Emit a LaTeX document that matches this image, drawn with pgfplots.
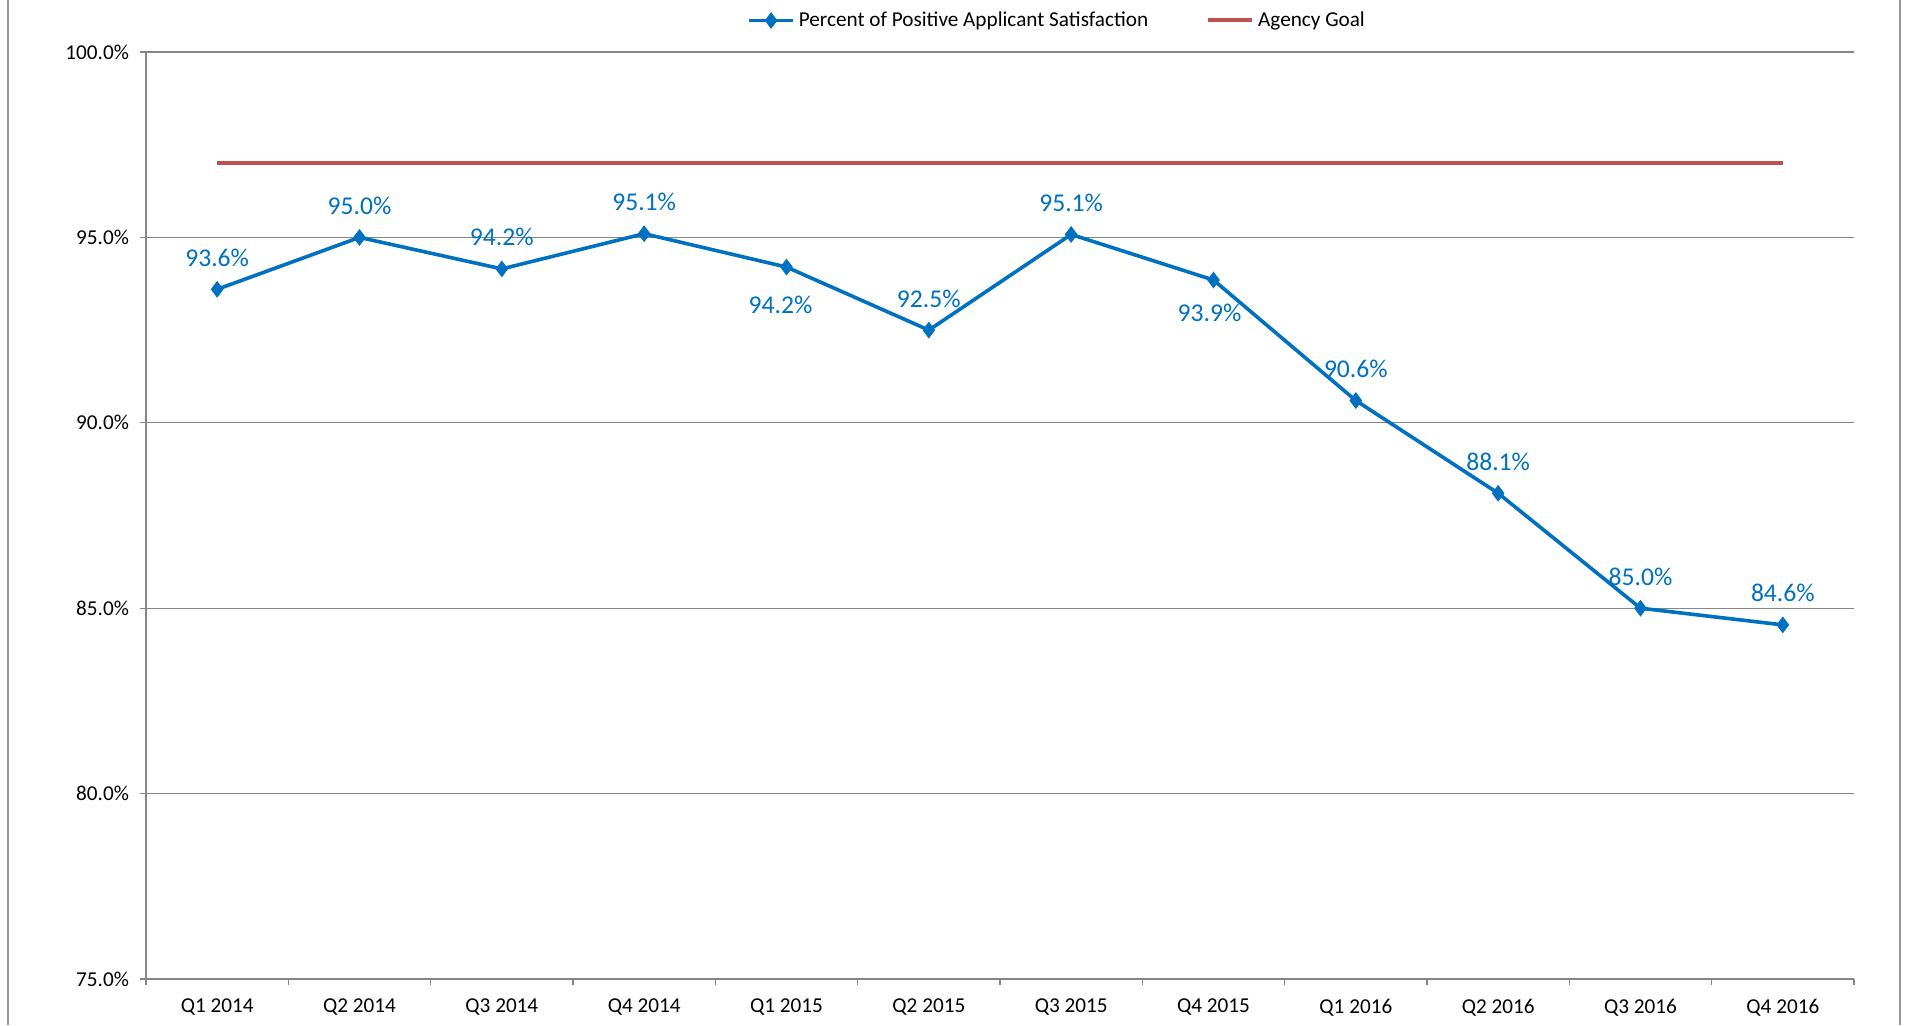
\documentclass[border=0pt]{standalone}
\usepackage{pgfplots}
\pgfplotsset{compat=1.18}
\usepackage{fontspec}
\setmainfont{Carlito}
\definecolor{xlblue}{RGB}{0,112,192}
\definecolor{xlred}{RGB}{192,80,77}
\definecolor{xlgrid}{RGB}{134,134,134}
\definecolor{xlframe}{RGB}{150,150,150}
\newcommand{\tickfont}{\fontsize{10.6}{12.6}\selectfont}
\newcommand{\lblfont}{\fontsize{12.8}{15}\selectfont}
\begin{document}
\begin{tikzpicture}
\path[use as bounding box] (0,0) rectangle (953.5pt,512.5pt);
\draw[xlframe, line width=1pt] (4pt,0) -- (4pt,512.5pt);
\draw[xlframe, line width=1pt] (950pt,0) -- (950pt,512.5pt);

\begin{axis}[
    at={(73pt,23pt)}, anchor=south west,
    scale only axis,
    width=854pt, height=463.5pt,
    xmin=0.5, xmax=12.5,
    ymin=75, ymax=100,
    axis x line=bottom, axis y line=left,
    axis line style={xlgrid, line width=0.6pt, -},
    xtick={1,...,12},
    xticklabels={Q1 2014,Q2 2014,Q3 2014,Q4 2014,Q1 2015,Q2 2015,Q3 2015,Q4 2015,Q1 2016,Q2 2016,Q3 2016,Q4 2016},
    major x tick style={draw=none},
    minor xtick={0.5,1.5,...,12.5},
    minor x tick style={xlgrid, line width=0.6pt},
    ytick={75,80,85,90,95,100},
    yticklabels={75.0\%,80.0\%,85.0\%,90.0\%,95.0\%,100.0\%},
    ytick style={xlgrid, line width=0.6pt},
    tick align=outside,
    major tick length=3pt, minor tick length=3pt,
    ymajorgrids=true,
    grid style={xlgrid, line width=0.6pt},
    tick label style={font=\tickfont, text=black},
    xticklabel style={yshift=-3.5pt},
    yticklabel style={xshift=-2pt},
    /pgf/number format/assume math mode=true,
    legend style={at={(0.534,1.034)}, anchor=center, draw=none, fill=none,
        font=\tickfont, legend columns=2,
        /tikz/every even column/.append style={column sep=27pt},
        inner sep=0pt},
    legend image code/.code={\draw[mark repeat=2,mark phase=2] plot coordinates {(0pt,0pt) (11pt,0pt) (22pt,0pt)};},
    clip=false,
]
\addplot[xlblue, line width=1.8pt, mark=diamond*, mark size=3.8pt,
    mark options={fill=xlblue, line width=0.5pt}] coordinates {
    (1,93.6) (2,95.0) (3,94.15) (4,95.1) (5,94.2) (6,92.5)
    (7,95.08) (8,93.85) (9,90.6) (10,88.1) (11,85.0) (12,84.55)};
\addlegendentry{Percent of Positive Applicant Satisfaction}
\addplot[xlred, line width=2pt] coordinates {(1,97) (12,97)};
\addlegendentry{Agency Goal}

\begin{scope}[every node/.style={font=\lblfont, text=xlblue, anchor=center}]
\node[yshift=15.8pt] at (axis cs:1,93.6) {93.6\%};
\node[yshift=15.8pt] at (axis cs:2,95.0) {95.0\%};
\node[yshift=15.8pt] at (axis cs:3,94.15) {94.2\%};
\node[yshift=15.8pt] at (axis cs:4,95.1) {95.1\%};
\node[yshift=-18.8pt, xshift=-3pt] at (axis cs:5,94.2) {94.2\%};
\node[yshift=15.8pt] at (axis cs:6,92.5) {92.5\%};
\node[yshift=15.8pt] at (axis cs:7,95.08) {95.1\%};
\node[yshift=-16.5pt, xshift=-2pt] at (axis cs:8,93.85) {93.9\%};
\node[yshift=15.8pt] at (axis cs:9,90.6) {90.6\%};
\node[yshift=15.8pt] at (axis cs:10,88.1) {88.1\%};
\node[yshift=15.8pt] at (axis cs:11,85.0) {85.0\%};
\node[yshift=15.8pt] at (axis cs:12,84.55) {84.6\%};
\end{scope}
\end{axis}
\end{tikzpicture}
\end{document}
